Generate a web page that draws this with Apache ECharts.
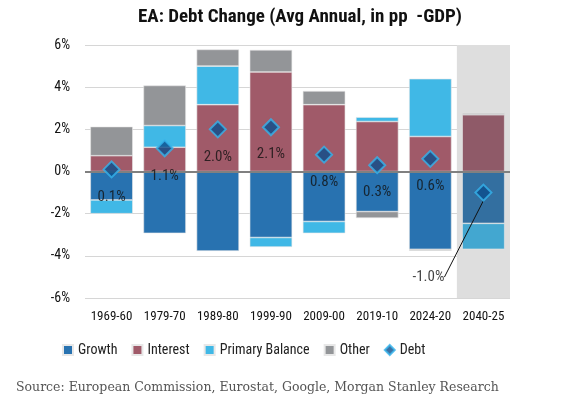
<!DOCTYPE html>
<html>
<head>
<meta charset="utf-8">
<script src="https://cdn.jsdelivr.net/npm/echarts@6/dist/echarts.min.js"></script>
<style>
  html, body { margin: 0; padding: 0; background: #fff; }
  #chart { width: 570px; height: 417px; }
</style>
</head>
<body>
<div id="chart"></div>
<script>
const periods = ['1969-60', '1979-70', '1989-80', '1999-90', '2009-00', '2019-10', '2024-20', '2040-25'];
const growth   = [-1.35, -2.93, -3.77, -3.13, -2.37, -1.90, -3.69, -2.46];
const interest = [0.75, 1.15, 3.17, 4.72, 3.17, 2.37, 1.66, 2.69];
const primary  = [-0.65, 1.03, 1.83, -0.45, -0.56, 0.21, 2.74, -1.23];
const other    = [1.38, 1.90, 0.79, 1.05, 0.65, -0.31, -0.07, 0.08];
const debt     = [0.1, 1.1, 2.0, 2.1, 0.8, 0.3, 0.6, -1.0];
const yTicks   = [-6, -4, -2, 0, 2, 4, 6];

const FONT = '"Roboto Condensed", Roboto, sans-serif';
const forecastIdx = periods.length - 1;

// last period is a projection: shown a bit muted on the grey band
function mk(values, muted) {
  return values.map((v, i) => i === forecastIdx
    ? { value: v, itemStyle: { color: muted } }
    : v);
}

const chart = echarts.init(document.getElementById('chart'));

const barBase = {
  type: 'bar',
  stack: 'total',
  barWidth: '80%',
  itemStyle: { borderColor: '#e8e8e8', borderWidth: 0.6 }
};

chart.setOption({
  animation: false,
  textStyle: { fontFamily: FONT },
  title: {
    text: 'EA: Debt Change (Avg Annual, in pp  -GDP)',
    left: 295,
    textAlign: 'center',
    top: 3,
    textStyle: { fontSize: 19, fontWeight: 'bold', color: '#111', fontFamily: FONT }
  },
  legend: {
    left: 57,
    top: 338,
    itemWidth: 10,
    itemHeight: 10,
    itemGap: 14,
    textStyle: { fontSize: 14, color: '#222', fontFamily: FONT },
    data: [
      { name: 'Growth', icon: 'rect' },
      { name: 'Interest', icon: 'rect' },
      { name: 'Primary Balance', icon: 'rect' },
      { name: 'Other', icon: 'rect' },
      { name: 'Debt', icon: 'diamond' }
    ]
  },
  grid: { left: 85, right: 60, top: 45, bottom: 119 },
  xAxis: [{
    type: 'category',
    data: periods,
    axisLine: { show: false },
    axisTick: { show: false },
    axisLabel: { interval: 0, fontSize: 13, color: '#111', margin: 12, fontFamily: FONT }
  }, {
    // hidden twin axis so the shaded band gets its own full-width bar layout
    type: 'category',
    data: periods,
    show: false
  }],
  yAxis: {
    type: 'value',
    min: yTicks[0],
    max: yTicks[yTicks.length - 1],
    interval: 2,
    axisLine: { show: false },
    axisTick: { show: false },
    splitLine: { lineStyle: { color: '#d6d6d6', width: 1 } },
    axisLabel: { fontSize: 14, color: '#111', margin: 15, formatter: v => v + '%', fontFamily: FONT }
  },
  graphic: [{
    type: 'text',
    left: 16,
    top: 381,
    style: {
      text: 'Source: European Commission, Eurostat, Google, Morgan Stanley Research',
      font: '12.5px "DejaVu Serif", serif',
      fill: '#555'
    }
  }],
  series: [
    {
      type: 'bar', name: 'shade', xAxisIndex: 1, stack: 'bg', barWidth: '100%', silent: true,
      itemStyle: { color: '#dedede' }, z: 1,
      data: periods.map((p, i) => i === forecastIdx ? yTicks[yTicks.length - 1] : null)
    },
    {
      type: 'bar', name: 'shade', xAxisIndex: 1, stack: 'bg', barWidth: '100%', silent: true,
      itemStyle: { color: '#dedede' }, z: 1,
      data: periods.map((p, i) => i === forecastIdx ? yTicks[0] : null)
    },
    Object.assign({}, barBase, { name: 'Growth', color: '#2872b0', data: mk(growth, '#336fa0') }),
    Object.assign({}, barBase, { name: 'Interest', color: '#a05a69', data: mk(interest, '#8f5a68') }),
    Object.assign({}, barBase, { name: 'Primary Balance', color: '#40b8e6', data: mk(primary, '#43a7d0') }),
    Object.assign({}, barBase, { name: 'Other', color: '#939598', data: mk(other, '#8e8e90') }),
    {
      type: 'scatter',
      name: 'Debt',
      symbol: 'diamond',
      symbolSize: 16,
      z: 5,
      itemStyle: { color: '#0b4e8c', borderColor: '#36b4ec', borderWidth: 2 },
      data: debt.map((v, i) => i === forecastIdx
        ? { value: v, labelLine: { show: true, lineStyle: { color: '#111', width: 1 } } }
        : v),
      label: {
        show: true,
        position: 'bottom',
        distance: 11,
        fontSize: 15,
        color: '#111',
        fontFamily: FONT,
        formatter: p => p.value.toFixed(1) + '%'
      },
      labelLayout: p => p.dataIndex === forecastIdx ? { dx: -55, dy: 57 } : {},
      labelLine: { show: false },
      markLine: {
        silent: true,
        symbol: 'none',
        label: { show: false },
        lineStyle: { color: '#808080', width: 2, type: 'solid' },
        data: [{ yAxis: 0 }]
      }
    }
  ]
});
</script>
</body>
</html>
